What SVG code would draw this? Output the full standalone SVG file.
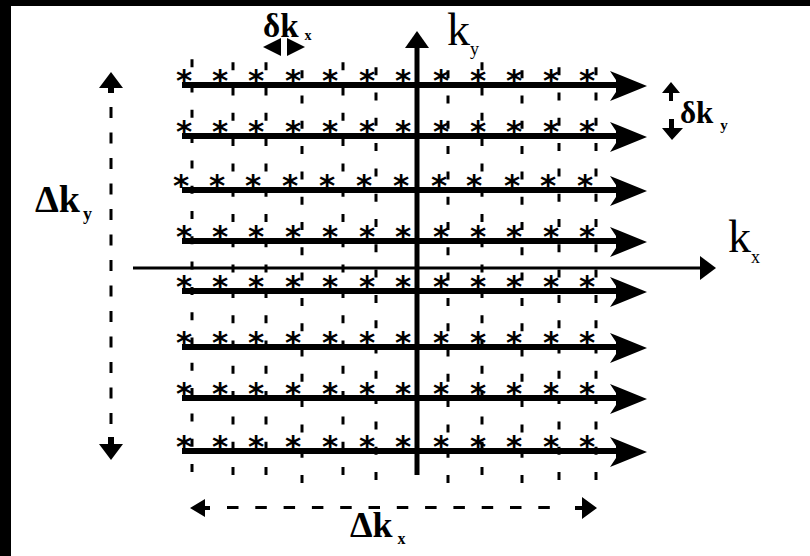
<svg xmlns="http://www.w3.org/2000/svg" width="810" height="556" viewBox="0 0 810 556">
<style>
.row{stroke:#000;stroke-width:6}
.col{stroke:#000;stroke-width:3;stroke-dasharray:8 17.3}
.ax{stroke:#000}
.ast{font-family:"DejaVu Sans",sans-serif;font-weight:bold;font-size:31px;text-anchor:middle;fill:#000}
.lbl{font-family:"Liberation Serif","Times New Roman",serif;fill:#000}
.b{font-weight:bold}
</style>
<defs>
<path id="rh" d="M-37,-15 L-27,-11 L0,0 L-27,11 L-37,15 L-31,6 L-31,-6 Z" fill="#000"/>
</defs>
<rect x="0" y="0" width="810" height="556" fill="#fff"/>
<rect x="0" y="0" width="11" height="556" fill="#000"/>
<rect x="0" y="0" width="810" height="6" fill="#000"/>

<g id="grid">
<line class="col" x1="192" y1="472" x2="192" y2="58"/>
<line class="col" x1="233" y1="475" x2="233" y2="58"/>
<line class="col" x1="266" y1="475" x2="266" y2="58"/>
<line class="col" x1="302" y1="483" x2="302" y2="58"/>
<line class="col" x1="343" y1="475" x2="343" y2="58"/>
<line class="col" x1="376" y1="480" x2="376" y2="58"/>
<line class="col" x1="448" y1="483" x2="448" y2="58"/>
<line class="col" x1="482" y1="475" x2="482" y2="58"/>
<line class="col" x1="522" y1="483" x2="522" y2="58"/>
<line class="col" x1="559" y1="480" x2="559" y2="58"/>
<line class="col" x1="596" y1="480" x2="596" y2="58"/>
</g>

<g id="connectors">
<g id="rows">
<line class="row" x1="182" y1="85" x2="625" y2="85"/><use href="#rh" x="647" y="86"/>
<line class="row" x1="182" y1="136" x2="625" y2="136"/><use href="#rh" x="647" y="137"/>
<line class="row" x1="182" y1="190" x2="625" y2="190"/><use href="#rh" x="647" y="191"/>
<line class="row" x1="182" y1="241" x2="625" y2="241"/><use href="#rh" x="647" y="242"/>
<line class="row" x1="182" y1="291" x2="625" y2="291"/><use href="#rh" x="647" y="292"/>
<line class="row" x1="182" y1="347" x2="625" y2="347"/><use href="#rh" x="647" y="348"/>
<line class="row" x1="182" y1="398" x2="625" y2="398"/><use href="#rh" x="647" y="399"/>
<line class="row" x1="182" y1="451" x2="625" y2="451"/><use href="#rh" x="647" y="452"/>
</g>
<g id="axes">
<line class="ax" x1="417" y1="475" x2="417" y2="45" stroke-width="5"/>
<polygon points="417,31 405,48 429,48" fill="#000"/>
<line class="ax" x1="133" y1="268" x2="702" y2="268" stroke-width="3"/>
<polygon points="700,256 716,268 700,280" fill="#000"/>
</g>
<g id="dim-ky">
<line class="ax" x1="111" y1="107" x2="111" y2="424" stroke-width="3" stroke-dasharray="11 14.5"/>
<polygon points="111,72 99,88 108,88 108,93 114,93 114,88 123,88" fill="#000"/>
<polygon points="111,460 99,444 108,444 108,437 114,437 114,444 123,444" fill="#000"/>
</g>
<g id="dim-kx">
<line class="ax" x1="227" y1="507.5" x2="553" y2="507.5" stroke-width="3" stroke-dasharray="11.5 16.8"/>
<polygon points="190,508 205,499 205,506 210,506 210,510 205,510 205,517" fill="#000"/>
<polygon points="597,508 582,497 582,506 575,506 575,510 582,510 582,519" fill="#000"/>
</g>
<g id="mark-dkx">
<polygon points="263,47 281,38 281,56" fill="#000"/>
<polygon points="305,47 287,38 287,56" fill="#000"/>
</g>
<g id="mark-dky">
<polygon points="671,82 662,93 669,93 669,101 673,101 673,93 680,93" fill="#000"/>
<polygon points="672,140 662,128 669,128 669,119 674,119 674,128 683,128" fill="#000"/>
</g>
</g>

<g id="samples">
<text class="ast" y="91"><tspan x="184">*</tspan><tspan x="220">*</tspan><tspan x="256">*</tspan><tspan x="293">*</tspan><tspan x="330">*</tspan><tspan x="367">*</tspan><tspan x="403">*</tspan><tspan x="441">*</tspan><tspan x="478">*</tspan><tspan x="514">*</tspan><tspan x="551">*</tspan><tspan x="587">*</tspan></text>
<text class="ast" y="142"><tspan x="184">*</tspan><tspan x="220">*</tspan><tspan x="256">*</tspan><tspan x="293">*</tspan><tspan x="330">*</tspan><tspan x="367">*</tspan><tspan x="403">*</tspan><tspan x="441">*</tspan><tspan x="478">*</tspan><tspan x="514">*</tspan><tspan x="551">*</tspan><tspan x="587">*</tspan></text>
<text class="ast" y="196"><tspan x="181">*</tspan><tspan x="217">*</tspan><tspan x="253">*</tspan><tspan x="290">*</tspan><tspan x="327">*</tspan><tspan x="364">*</tspan><tspan x="401">*</tspan><tspan x="439">*</tspan><tspan x="474">*</tspan><tspan x="512">*</tspan><tspan x="548">*</tspan><tspan x="585">*</tspan></text>
<text class="ast" y="247"><tspan x="184">*</tspan><tspan x="220">*</tspan><tspan x="256">*</tspan><tspan x="293">*</tspan><tspan x="330">*</tspan><tspan x="367">*</tspan><tspan x="403">*</tspan><tspan x="441">*</tspan><tspan x="478">*</tspan><tspan x="514">*</tspan><tspan x="551">*</tspan><tspan x="587">*</tspan></text>
<text class="ast" y="297"><tspan x="184">*</tspan><tspan x="220">*</tspan><tspan x="256">*</tspan><tspan x="293">*</tspan><tspan x="330">*</tspan><tspan x="367">*</tspan><tspan x="403">*</tspan><tspan x="441">*</tspan><tspan x="478">*</tspan><tspan x="514">*</tspan><tspan x="551">*</tspan><tspan x="587">*</tspan></text>
<text class="ast" y="353"><tspan x="184">*</tspan><tspan x="220">*</tspan><tspan x="256">*</tspan><tspan x="293">*</tspan><tspan x="330">*</tspan><tspan x="367">*</tspan><tspan x="403">*</tspan><tspan x="441">*</tspan><tspan x="478">*</tspan><tspan x="514">*</tspan><tspan x="551">*</tspan><tspan x="587">*</tspan></text>
<text class="ast" y="404"><tspan x="184">*</tspan><tspan x="220">*</tspan><tspan x="256">*</tspan><tspan x="293">*</tspan><tspan x="330">*</tspan><tspan x="367">*</tspan><tspan x="403">*</tspan><tspan x="441">*</tspan><tspan x="478">*</tspan><tspan x="514">*</tspan><tspan x="551">*</tspan><tspan x="587">*</tspan></text>
<text class="ast" y="457"><tspan x="184">*</tspan><tspan x="220">*</tspan><tspan x="256">*</tspan><tspan x="293">*</tspan><tspan x="330">*</tspan><tspan x="367">*</tspan><tspan x="403">*</tspan><tspan x="441">*</tspan><tspan x="478">*</tspan><tspan x="514">*</tspan><tspan x="551">*</tspan><tspan x="587">*</tspan></text>
</g>

<g id="label-ky"><text class="lbl" x="447" y="45" font-size="46">k<tspan font-size="18" dy="10">y</tspan></text></g>
<g id="label-kx"><text class="lbl" x="728" y="252" font-size="46">k<tspan font-size="18" dy="11">x</tspan></text></g>
<g id="label-Dky"><text class="lbl b" x="35" y="212" font-size="38">Δk<tspan font-size="18" dx="3" dy="8">y</tspan></text></g>
<g id="label-Dkx"><text class="lbl b" x="350" y="537" font-size="36">Δk<tspan font-size="16" dx="5" dy="7">x</tspan></text></g>
<g id="label-dkx"><text class="lbl b" x="263" y="37" font-size="33">δk<tspan font-size="14" dx="6" dy="3">x</tspan></text></g>
<g id="label-dky"><text class="lbl b" x="680" y="123" font-size="31">δk<tspan font-size="15" dx="7" dy="7">y</tspan></text></g>
</svg>
